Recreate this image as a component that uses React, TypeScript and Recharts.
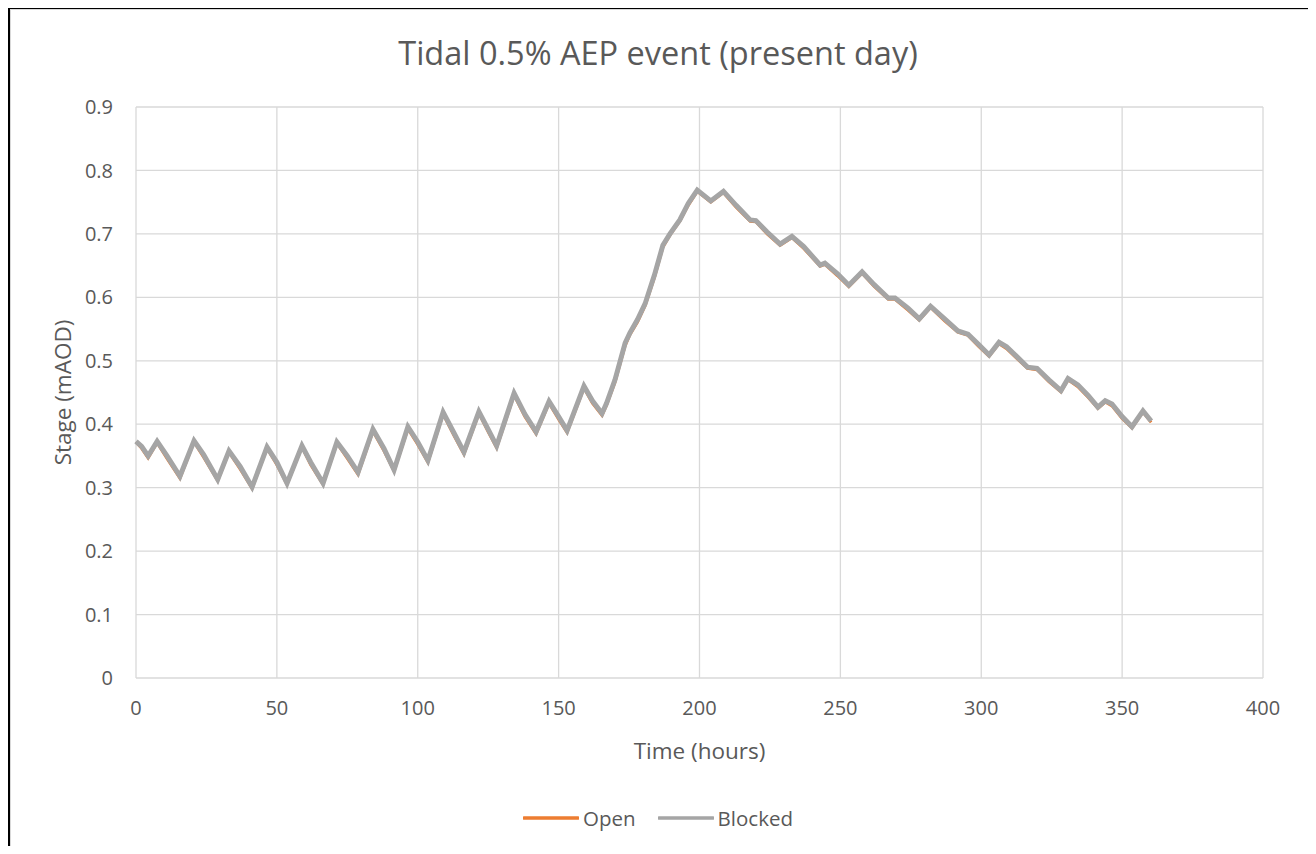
import React from "react";
import { LineChart, Line, XAxis, YAxis, CartesianGrid, Legend } from "recharts";

const hours = [0, 2, 4.3, 7.5, 11, 15.6, 20.6, 24, 29, 33, 37, 41.2, 46.5, 50, 53.6, 58.9, 62, 66.4, 71.3, 75, 78.8, 84.1, 88, 91.6, 96.5, 100, 103.6, 109, 113, 116.4, 121.7, 125, 128, 134.2, 138, 142, 146.6, 150, 153, 159, 162, 165.4, 167, 170, 173.6, 175.3, 178, 180.7, 184, 187, 189.5, 193, 196, 199.2, 204, 208.5, 213, 218, 220, 224, 228.6, 232.8, 237, 242.8, 244.5, 249, 253, 257.7, 262, 267, 269.4, 274, 278, 282, 287, 291.7, 295.3, 299, 302.8, 306.3, 309, 313, 316.4, 319.8, 324, 328.3, 330.8, 334.3, 338, 341.4, 344, 346.4, 350, 353.5, 357.4, 360.3];

const blocked = [0.373, 0.365, 0.350, 0.373, 0.350, 0.318, 0.374, 0.352, 0.313, 0.358, 0.333, 0.301, 0.364, 0.340, 0.307, 0.366, 0.340, 0.307, 0.372, 0.350, 0.324, 0.392, 0.362, 0.328, 0.396, 0.372, 0.343, 0.419, 0.385, 0.356, 0.420, 0.392, 0.366, 0.449, 0.416, 0.388, 0.436, 0.412, 0.390, 0.460, 0.437, 0.417, 0.433, 0.470, 0.528, 0.544, 0.565, 0.590, 0.635, 0.682, 0.700, 0.722, 0.748, 0.769, 0.752, 0.767, 0.745, 0.722, 0.721, 0.703, 0.684, 0.696, 0.680, 0.651, 0.654, 0.637, 0.619, 0.640, 0.620, 0.599, 0.599, 0.583, 0.566, 0.586, 0.566, 0.547, 0.542, 0.526, 0.509, 0.529, 0.522, 0.505, 0.490, 0.488, 0.470, 0.453, 0.472, 0.462, 0.445, 0.427, 0.437, 0.432, 0.412, 0.396, 0.421, 0.405];

const open = [0.372, 0.362, 0.347, 0.371, 0.346, 0.315, 0.372, 0.348, 0.311, 0.356, 0.329, 0.299, 0.362, 0.336, 0.305, 0.364, 0.336, 0.305, 0.370, 0.346, 0.321, 0.389, 0.358, 0.326, 0.393, 0.368, 0.340, 0.416, 0.381, 0.353, 0.417, 0.388, 0.363, 0.446, 0.412, 0.385, 0.433, 0.408, 0.387, 0.457, 0.433, 0.414, 0.430, 0.466, 0.524, 0.541, 0.561, 0.587, 0.631, 0.679, 0.698, 0.720, 0.745, 0.767, 0.750, 0.765, 0.742, 0.720, 0.719, 0.700, 0.682, 0.694, 0.677, 0.649, 0.652, 0.634, 0.617, 0.638, 0.617, 0.597, 0.597, 0.580, 0.564, 0.584, 0.563, 0.545, 0.540, 0.523, 0.507, 0.527, 0.519, 0.502, 0.488, 0.486, 0.467, 0.451, 0.470, 0.459, 0.442, 0.425, 0.435, 0.429, 0.409, 0.394, 0.419, 0.403];

const xTicks = [0, 50, 100, 150, 200, 250, 300, 350, 400];
const yTicks = [0, 0.1, 0.2, 0.3, 0.4, 0.5, 0.6, 0.7, 0.8, 0.9];
const seriesNames = ["Open", "Blocked"];
const seriesColors = ["#ed7d31", "#a5a5a5"];

const data = hours.map((h, i) => ({ hour: h, open: open[i], blocked: blocked[i] }));

const FONT = "'Open Sans', 'Noto Sans', sans-serif";
const TEXT = "#595959";

const LegendContent = () => (
  <div style={{ display: "flex", justifyContent: "center", alignItems: "center", fontFamily: FONT, fontSize: 20.5, color: TEXT }}>
    {seriesNames.map((n, i) => (
      <div key={n} style={{ display: "flex", alignItems: "center", marginLeft: i === 0 ? 0 : 22 }}>
        <svg width={56} height={10} style={{ marginRight: 4 }}>
          <line x1={1} y1={5} x2={55} y2={5} stroke={seriesColors[i]} strokeWidth={3.5} strokeLinecap="round" />
        </svg>
        <span>{n}</span>
      </div>
    ))}
  </div>
);

export default function App() {
  return (
    <div style={{ position: "relative", width: 1300, height: 838, fontFamily: FONT }}>
      <div style={{ position: "absolute", left: 0, top: -1, width: 1305, height: 846, boxSizing: "border-box", borderTop: "2px solid #000", borderLeft: "2px solid #000", borderRight: "2px solid #000" }}>
        <div style={{ position: "absolute", left: 0, top: 0, right: 0, bottom: 0, borderTop: "1px solid #d9d9d9", borderLeft: "1px solid #d9d9d9", borderRight: "1px solid #d9d9d9" }} />
      </div>
      <div style={{ position: "absolute", left: -8, top: 24, width: 1316, textAlign: "center", fontSize: 32.5, lineHeight: "42px", color: TEXT }}>
        Tidal 0.5% AEP event (present day)
      </div>
      <div style={{ position: "absolute", left: -8, top: -8 }}>
        <LineChart width={1316} height={854} data={data} margin={{ top: 107, right: 53, bottom: 146, left: 76 }}>
          <CartesianGrid stroke="#d9d9d9" strokeWidth={1.3} />
          <XAxis
            dataKey="hour"
            type="number"
            domain={[0, 400]}
            ticks={xTicks}
            axisLine={false}
            tickLine={false}
            tickSize={0}
            tickMargin={23}
            height={30}
            tick={{ fill: TEXT, fontSize: 20, fontFamily: FONT }}
            label={{
              content: (p: any) => {
                const vb = p.viewBox || {};
                const cx = vb.x + vb.width / 2;
                return (
                  <text x={cx} y={750} textAnchor="middle" dominantBaseline="central" fill={TEXT} fontSize={22.5} fontFamily={FONT}>
                    Time (hours)
                  </text>
                );
              },
            }}
          />
          <YAxis
            type="number"
            domain={[0, 0.9]}
            ticks={yTicks}
            axisLine={false}
            tickLine={false}
            tickSize={0}
            tickMargin={23}
            width={60}
            tick={{ fill: TEXT, fontSize: 20, fontFamily: FONT }}
            label={{
              content: (p: any) => {
                const vb = p.viewBox || {};
                const cy = vb.y + vb.height / 2;
                return (
                  <text x={62} y={cy} transform={`rotate(-90 62 ${cy})`} textAnchor="middle" dominantBaseline="central" fill={TEXT} fontSize={22.5} fontFamily={FONT}>
                    Stage (mAOD)
                  </text>
                );
              },
            }}
          />
          <Legend
            layout="horizontal"
            verticalAlign="middle"
            align="center"
            content={() => <LegendContent />}
            wrapperStyle={{ position: "absolute", top: 804, left: 0, width: 1316 }}
          />
          <Line type="linear" dataKey="open" name="Open" stroke={seriesColors[0]} strokeWidth={3} dot={false} isAnimationActive={false} />
          <Line type="linear" dataKey="blocked" name="Blocked" stroke={seriesColors[1]} strokeWidth={5} dot={false} isAnimationActive={false} />
        </LineChart>
      </div>
    </div>
  );
}
